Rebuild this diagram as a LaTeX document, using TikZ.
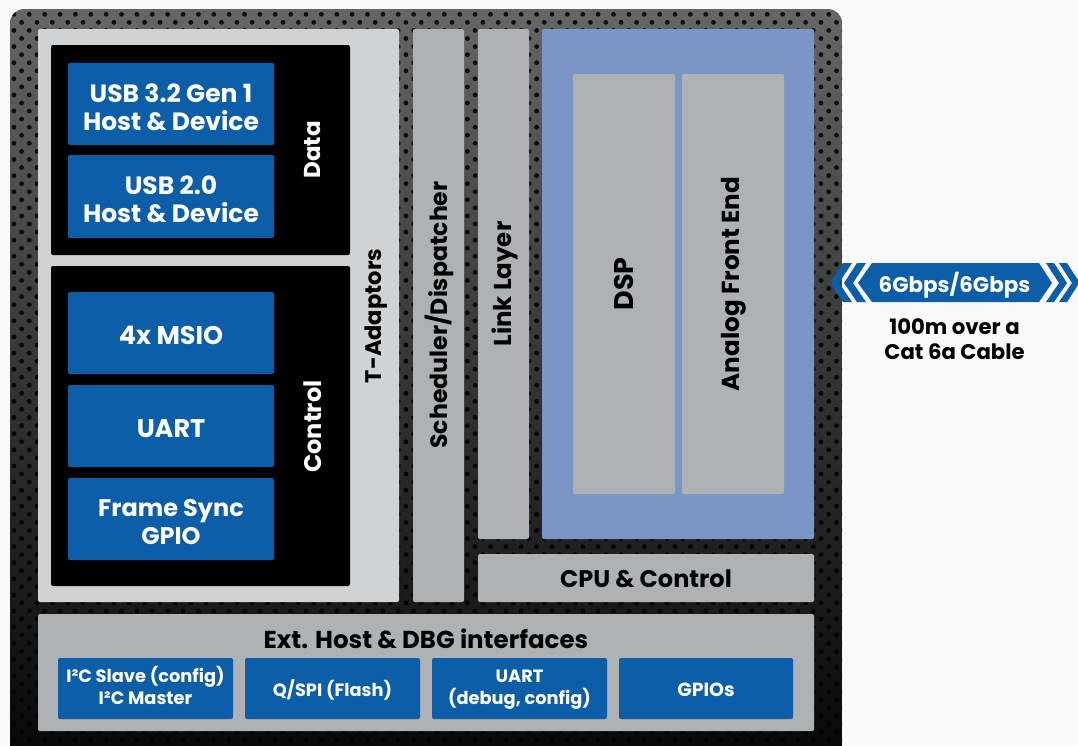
\documentclass[tikz,border=0pt]{standalone}
\usepackage{fontspec}
\setmainfont{Poppins}
\definecolor{pagebg}{HTML}{F9F9F9}
\definecolor{chipblue}{HTML}{0D5EA8}
\definecolor{lightgr}{HTML}{D1D2D3}
\definecolor{midgr}{HTML}{AFB2B4}
\definecolor{periw}{HTML}{7A95C6}
\newcommand{\fs}[1]{\fontsize{#1}{28}\selectfont\bfseries}
\tikzset{
 x=1pt,y=-1pt,
 boxbase/.style={inner sep=0pt,outer sep=0pt,rounded corners=2pt},
 chip/.style={boxbase,fill=chipblue},
 panel/.style={boxbase,fill=midgr},
 blackp/.style={boxbase,fill=black},
 chiptext/.style={inner sep=0pt,text=white,align=center,font=\fs{25}},
 smalltext/.style={inner sep=0pt,text=white,align=center,font=\fontsize{17.8}{21.5}\selectfont\bfseries},
 lab/.style={inner sep=0pt,align=center,font=\fs{24}},
 vlab/.style={lab,rotate=90},
}
\newcommand{\bx}[6]{\node[#6,minimum width={(#4-#2)*1pt},minimum height={(#5-#3)*1pt}] (#1) at ({(#2+#4)/2},{(#3+#5)/2}) {};}
\newcommand{\tx}[3]{\node[#2,yshift=-2pt] (#1t) at (#1) {#3};}
\begin{document}
\begin{tikzpicture}
\useasboundingbox (0,0) rectangle (1078,745);
\fill[pagebg] (0,0) rectangle (1078,745);
% frame
\begin{scope}
\clip[rounded corners=14pt] (10,9) rectangle (842,760);
\shade[top color=black!60,bottom color=black!97,middle color=black!80] (10,9) rectangle (842,760);
\foreach \r in {0,...,92}{
  \pgfmathsetmacro{\yy}{14.3+\r*8.065}
  \pgfmathsetmacro{\off}{mod(\r+1,2)*7.687}
  \foreach \c in {0,...,55}{
    \fill[black,opacity=0.85] ({6.25+\off+\c*15.373},\yy) circle (2.4);
  }
}
\end{scope}
\bx{tadapt}{38}{29}{399}{602}{boxbase,fill=lightgr}
\bx{data}{51}{45}{350}{255}{blackp}
\bx{control}{51}{266}{350}{586}{blackp}
\bx{usbthree}{68}{63}{274}{145}{chip}\tx{usbthree}{chiptext,yshift=-1pt,font=\fs{25}}{USB 3.2 Gen 1\\Host \& Device}
\bx{usbtwo}{68}{155}{274}{238}{chip}\tx{usbtwo}{chiptext,yshift=-1pt}{USB 2.0\\Host \& Device}
\bx{msio}{68}{292}{274}{374}{chip}\tx{msio}{chiptext,font=\fs{25.5}}{4x MSIO}
\bx{uart}{68}{385}{274}{467}{chip}\tx{uart}{chiptext,yshift=-1pt,font=\fs{25.5}}{UART}
\bx{frame}{68}{478}{274}{560}{chip}\tx{frame}{chiptext,yshift=-1pt,font=\fs{24}}{Frame Sync\\GPIO}
\node[vlab,text=white,font=\fs{23}] (datal) at (313,150) {Data};
\node[vlab,text=white,font=\fs{24}] (controll) at (313,426.5) {Control};
\node[vlab,font=\fs{22.5}] (tadaptl) at (376,316) {T-Adaptors};
\bx{sched}{413}{29}{464}{602}{panel}
\node[vlab,font=\fs{23.6}] (schedl) at (439,315) {Scheduler/Dispatcher};
\bx{link}{478}{29}{529}{539}{panel}
\node[vlab,font=\fs{24.5}] (linkl) at (505,284) {Link Layer};
\bx{dspbg}{542}{29}{814}{539}{boxbase,fill=periw}
\bx{dsp}{573}{74}{675}{494}{panel}
\node[vlab,font=\fs{27}] (dspl) at (624,284) {DSP};
\bx{afe}{682}{74}{784}{494}{panel}
\node[vlab,font=\fs{24.6}] (afel) at (734,284) {Analog Front End};
\bx{cpu}{478}{554}{814}{602}{panel}\tx{cpu}{lab,yshift=1pt}{CPU \& Control}
\bx{ext}{38}{614}{814}{731}{panel}
\node[lab,font=\fs{24.5}] (extl) at (426,639) {Ext. Host \& DBG interfaces};
\bx{ic}{58}{658}{233}{719}{chip}\tx{ic}{smalltext,yshift=5pt}{I²C Slave (config)\\I²C Master}
\bx{qspi}{245}{658}{420}{719}{chip}\tx{qspi}{smalltext,yshift=1pt}{Q/SPI (Flash)}
\bx{uartd}{432}{658}{607}{719}{chip}\tx{uartd}{smalltext,yshift=1pt}{UART\\(debug, config)}
\bx{gpios}{619}{658}{793}{719}{chip}\tx{gpios}{smalltext,yshift=1pt,font=\fontsize{19}{22}\selectfont\bfseries}{GPIOs}
% link arrow
\fill[chipblue] (872,263) -- (1039,263) -- (1052,283) -- (1039,302) -- (872,302) -- (858,283) -- cycle;
\fill[chipblue] (857,263) -- (866,263) -- (853,283) -- (866,302) -- (857,302) -- (844,283) -- cycle;
\fill[chipblue] (843,263) -- (852,263) -- (839,283) -- (852,302) -- (843,302) -- (830,283) -- cycle;
\fill[chipblue] (1046,263) -- (1054,263) -- (1067,283) -- (1054,302) -- (1046,302) -- (1059,283) -- cycle;
\fill[chipblue] (1059,263) -- (1067,263) -- (1078,280) -- (1078,285) -- (1067,302) -- (1059,302) -- (1072,283) -- cycle;
\node[lab,text=white,font=\fs{21.4}] (speed) at (954.5,285) {6Gbps/6Gbps};
\node[lab,font=\fontsize{21.2}{25}\selectfont\bfseries] (cable) at (954.5,339.5) {100m over a\\Cat 6a Cable};
\end{tikzpicture}
\end{document}
